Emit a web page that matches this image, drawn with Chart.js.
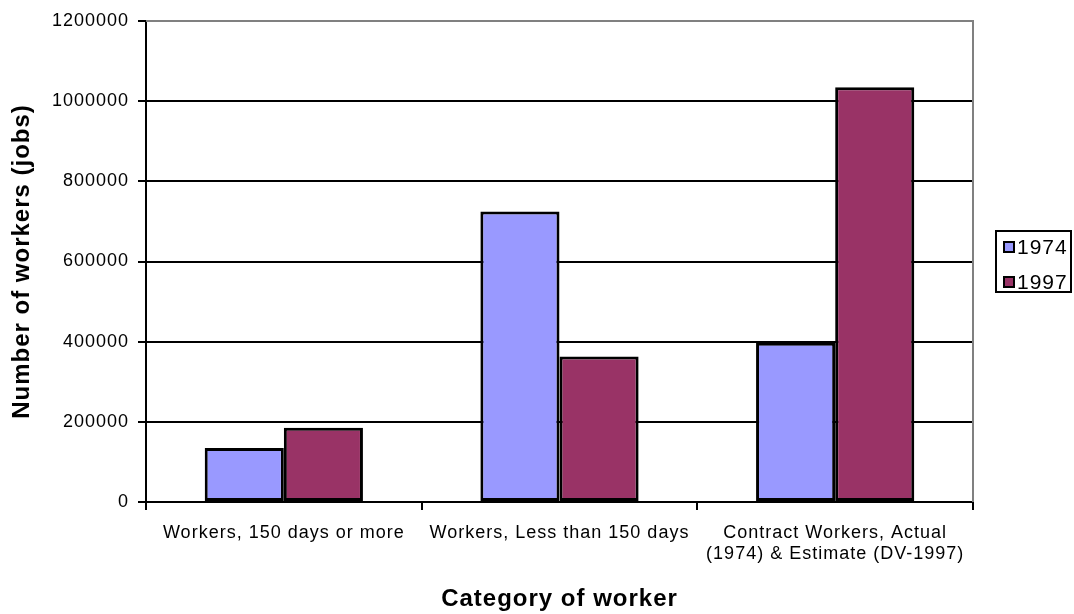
<!DOCTYPE html>
<html>
<head>
<meta charset="utf-8">
<script src="https://cdn.jsdelivr.net/npm/chart.js@4/dist/chart.umd.min.js"></script>
<style>
  html, body { margin: 0; padding: 0; background: #fff; }
  #wrap { position: relative; width: 1074px; height: 614px; }
  #legend { position: absolute; left: 995px; top: 230px; width: 77px; height: 63px; box-sizing: border-box;
            border: 2px solid #000; font-family: "Liberation Sans", Arial, sans-serif; font-size: 21px; letter-spacing: 1px; color: #000; background:#fff; }
  .row { position: absolute; left: 6px; height: 30px; line-height: 30px; display: flex; align-items: center; }
  .sw { width: 8px; height: 8px; border: 2px solid #000; margin-right: 2px; }
</style>
</head>
<body>
<div id="wrap">
  <canvas id="c" width="1074" height="614"></canvas>
  <div id="legend"></div>
</div>
<script>
const categories = [
  "Workers, 150 days or more",
  "Workers, Less than 150 days",
  ["Contract Workers, Actual", "(1974) & Estimate (DV-1997)"]
];
const seriesNames = ["1974", "1997"];
const values1974 = [135000, 725000, 397000];
const values1997 = [185000, 363000, 1035000];
const yTicks = [0, 200000, 400000, 600000, 800000, 1000000, 1200000];
const colors = ["#9999FF", "#993366"];

const FONT = "'Liberation Sans', Arial, sans-serif";

const spacingPlugin = {
  id: 'spacing',
  beforeUpdate(chart) { chart.ctx.letterSpacing = '1px'; },
  beforeDraw(chart) { chart.ctx.letterSpacing = '1px'; }
};

const borderPlugin = {
  id: 'plotBorder',
  beforeDatasetsDraw(chart) {
    const {ctx, chartArea: a} = chart;
    ctx.save();
    ctx.strokeStyle = '#808080';
    ctx.lineWidth = 2;
    ctx.beginPath();
    ctx.moveTo(a.left, a.top);
    ctx.lineTo(a.right, a.top);
    ctx.lineTo(a.right, a.bottom);
    ctx.stroke();
    ctx.restore();
  }
};

const chart = new Chart(document.getElementById('c'), {
  type: 'bar',
  data: {
    labels: categories,
    datasets: [
      { label: seriesNames[0], data: values1974, backgroundColor: colors[0], borderColor: '#000', borderWidth: 3,
        borderSkipped: false, categoryPercentage: 0.574, barPercentage: 1.0 },
      { label: seriesNames[1], data: values1997, backgroundColor: colors[1], borderColor: '#000', borderWidth: 3,
        borderSkipped: false, categoryPercentage: 0.574, barPercentage: 1.0 }
    ]
  },
  options: {
    responsive: false,
    animation: false,
    devicePixelRatio: 1,
    layout: { padding: { top: 21, right: 101, left: 0, bottom: 0 } },
    plugins: { legend: { display: false }, tooltip: { enabled: false } },
    scales: {
      x: {
        offset: true,
        grid: { offset: true, drawOnChartArea: false, drawTicks: true, tickLength: 8, color: '#000', lineWidth: 2 },
        border: { color: '#000', width: 2 },
        ticks: { color: '#000', font: { family: FONT, size: 18 }, padding: 12, maxRotation: 0, autoSkip: false },
        title: { display: true, text: 'Category of worker', color: '#000',
                 font: { family: FONT, size: 24, weight: 'bold' }, padding: { top: 0, bottom: 0 } },
        afterFit(s) { s.height = 112; }
      },
      y: {
        min: yTicks[0],
        max: yTicks[yTicks.length - 1],
        afterBuildTicks(s) { s.ticks = yTicks.map(v => ({ value: v })); },
        grid: {
          color: c => (c.tick && c.tick.value === yTicks[yTicks.length - 1]) ? '#808080' : '#000',
          tickColor: '#000', lineWidth: 2, tickLength: 8
        },
        border: { color: '#000', width: 2 },
        ticks: { color: '#000', font: { family: FONT, size: 18 }, padding: 9, callback: v => String(v) },
        title: { display: true, text: 'Number of workers (jobs)', color: '#000',
                 font: { family: FONT, size: 24, weight: 'bold' }, padding: { top: 8, bottom: 0 } },
        afterFit(s) { s.width = 146; }
      }
    }
  },
  plugins: [spacingPlugin, borderPlugin]
});

// HTML legend built from the datasets
const leg = document.getElementById('legend');
chart.data.datasets.forEach((ds, i) => {
  const row = document.createElement('div');
  row.className = 'row';
  row.style.top = (0 + 35 * i) + 'px';
  const sw = document.createElement('span');
  sw.className = 'sw';
  sw.style.background = ds.backgroundColor;
  const tx = document.createElement('span');
  tx.textContent = ds.label;
  row.appendChild(sw); row.appendChild(tx);
  leg.appendChild(row);
});
</script>
</body>
</html>
